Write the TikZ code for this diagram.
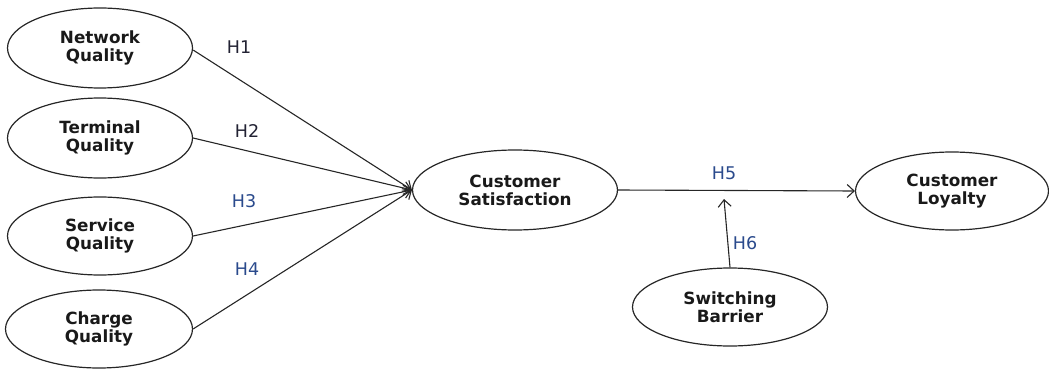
\documentclass[tikz,border=0pt]{standalone}
\usepackage{fontspec}
\setmainfont{DejaVu Sans}
\usetikzlibrary{shapes.geometric,arrows.meta}
\definecolor{hblue}{HTML}{2A4A8C}
\definecolor{hdark}{HTML}{222233}
\tikzset{
  construct/.style={draw=black!85, line width=1.2pt, ellipse, inner sep=0pt,
    font=\fontsize{16.8}{18}\selectfont\bfseries, align=center, text=black!90},
  link/.style={draw=black!85, line width=1.1pt, -{Straight Barb[length=7pt,width=13pt,line width=1.1pt]}},
  hyp/.style={font=\fontsize{17.5}{19}\selectfont, text=hdark},
  hypb/.style={font=\fontsize{17.5}{19}\selectfont, text=hblue},
}
\begin{document}
\begin{tikzpicture}[x=1pt,y=-1pt]
\useasboundingbox (0,0) rectangle (1049,369);
\node[construct, minimum width=185pt, minimum height=80pt] (nq) at (100,48) {Network\\Quality};
\node[construct, minimum width=185pt, minimum height=80pt] (tq) at (100,138) {Terminal\\Quality};
\node[construct, minimum width=185pt, minimum height=78pt] (sq) at (100,236) {Service\\Quality};
\node[construct, minimum width=187pt, minimum height=78pt] (cq) at (99,329) {Charge\\Quality};
\node[construct, minimum width=205pt, minimum height=80pt] (cs) at (515,190) {Customer\\Satisfaction};
\node[construct, minimum width=193pt, minimum height=78pt] (cl) at (952,191) {Customer\\Loyalty};
\node[construct, minimum width=195pt, minimum height=78pt] (sb) at (730,307) {Switching\\Barrier};
\coordinate (mod) at (724,199);
\draw[link] (nq.east) ++(0,2) -- (cs.west);
\draw[link] (tq.east) -- (cs.west);
\draw[link] (sq.east) -- (cs.west);
\draw[link] (cq.east) -- (cs.west);
\draw[link] (cs.east) -- (cl.west);
\draw[link] (sb.north) -- (mod);
\node[hyp] (h1) at (239,47) {H1};
\node[hyp] (h2) at (247,131) {H2};
\node[hypb] (h3) at (244,201) {H3};
\node[hypb] (h4) at (247,269) {H4};
\node[hypb] (h5) at (724,173) {H5};
\node[hypb] (h6) at (745,243) {H6};
\end{tikzpicture}
\end{document}
